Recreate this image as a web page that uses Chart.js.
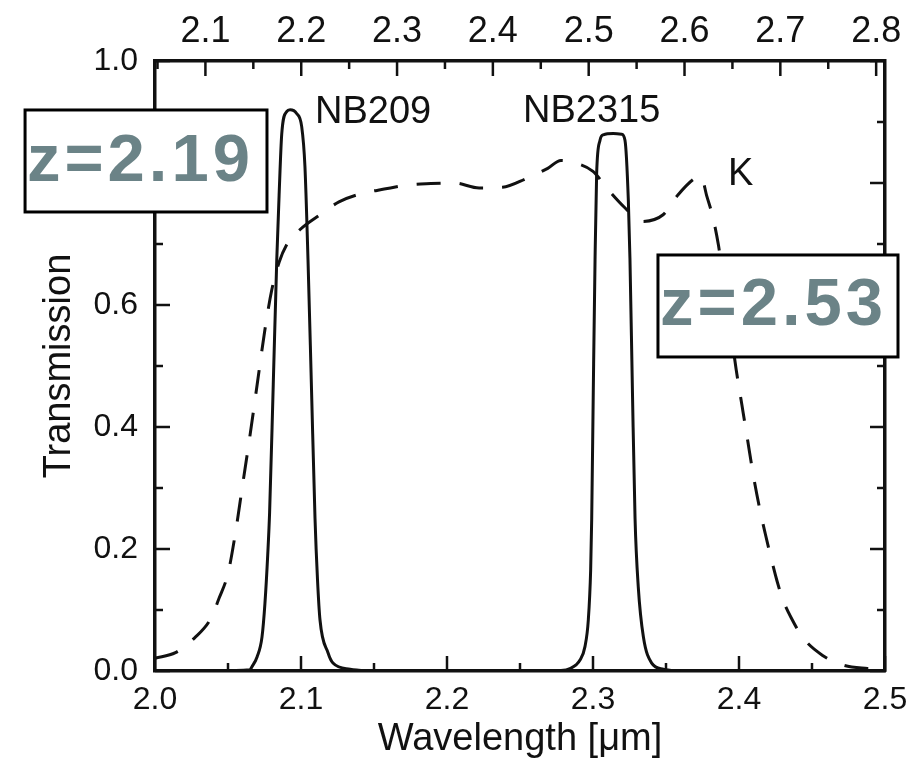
<!DOCTYPE html>
<html>
<head>
<meta charset="utf-8">
<script src="https://cdn.jsdelivr.net/npm/chart.js@4.4.1/dist/chart.umd.min.js"></script>
<style>
  html, body { margin: 0; padding: 0; background: #fff; }
  canvas { display: block; }
</style>
</head>
<body>
<canvas id="myChart" width="919" height="768"></canvas>
<script>
// K band filter curve (dashed)
var kWave  = [2.000, 2.014, 2.027, 2.038, 2.044, 2.050, 2.055, 2.060, 2.065, 2.070, 2.075, 2.080, 2.085, 2.090,
              2.099, 2.113, 2.126, 2.142, 2.157, 2.174, 2.189, 2.205, 2.222, 2.238, 2.254, 2.269, 2.278, 2.286,
              2.300, 2.310, 2.322, 2.333, 2.348, 2.358, 2.370, 2.374, 2.378, 2.382, 2.386, 2.390, 2.394, 2.398,
              2.402, 2.406, 2.410, 2.414, 2.418, 2.422, 2.426, 2.430, 2.436, 2.444, 2.457, 2.471, 2.488, 2.500];
var kTrans = [0.021, 0.030, 0.054, 0.085, 0.120, 0.160, 0.225, 0.305, 0.385, 0.470, 0.555, 0.625, 0.670, 0.698,
              0.723, 0.748, 0.769, 0.783, 0.790, 0.797, 0.799, 0.800, 0.792, 0.793, 0.807, 0.824, 0.837, 0.834,
              0.819, 0.790, 0.759, 0.737, 0.748, 0.780, 0.808, 0.811, 0.778, 0.745, 0.697, 0.630, 0.565, 0.495,
              0.436, 0.377, 0.318, 0.268, 0.225, 0.185, 0.148, 0.117, 0.086, 0.054, 0.026, 0.010, 0.004, 0.002];

// NB209 narrow band
var nb209Wave  = [2.040, 2.065, 2.0664, 2.0699, 2.0733, 2.0753, 2.0772, 2.0785, 2.0810, 2.0834, 2.0850, 2.0868,
                  2.0902, 2.0925, 2.0970, 2.1005, 2.1027, 2.1048, 2.1072, 2.1096, 2.1113, 2.1130, 2.1185, 2.1219,
                  2.1336, 2.150];
var nb209Trans = [0.000, 0.002, 0.007, 0.023, 0.056, 0.111, 0.190, 0.260, 0.470, 0.674, 0.780, 0.880,
                  0.917, 0.920, 0.914, 0.892, 0.827, 0.674, 0.462, 0.250, 0.150, 0.084, 0.030, 0.013,
                  0.003, 0.000];

// NB2315 narrow band
var nb2315Wave  = [2.275, 2.2842, 2.2911, 2.2945, 2.2968, 2.2984, 2.2991, 2.3002, 2.3014, 2.3025, 2.3048, 2.3070,
                   2.3139, 2.3196, 2.3219, 2.3242, 2.3253, 2.3270, 2.3288, 2.3310, 2.3345, 2.3402, 2.3482, 2.360];
var nb2315Trans = [0.000, 0.004, 0.018, 0.040, 0.084, 0.166, 0.248, 0.460, 0.674, 0.816, 0.870, 0.879,
                   0.881, 0.880, 0.870, 0.772, 0.677, 0.460, 0.250, 0.138, 0.056, 0.013, 0.003, 0.000];

// axes
var waveTicks  = [2.0, 2.1, 2.2, 2.3, 2.4, 2.5];
var waveMinor  = [2.05, 2.15, 2.25, 2.35, 2.45];
var transTicks = [0.0, 0.2, 0.4, 0.6, 0.8, 1.0];
var transMinor = [0.1, 0.3, 0.5, 0.7, 0.9];
var zTicks     = [2.1, 2.2, 2.3, 2.4, 2.5, 2.6, 2.7, 2.8];
var zMinor     = [2.05, 2.15, 2.25, 2.35, 2.45, 2.55, 2.65, 2.75];
var HALPHA = 0.6563; // rest wavelength in micron

var filterNames = ['NB209', 'NB2315', 'K'];
var redshiftTags = ['z=2.19', 'z=2.53'];

var WAVE_MIN = 2.0, WAVE_MAX = 2.5;
var INK = '#111';
var FONT = 'Liberation Sans, Arial, Helvetica, sans-serif';

function pts(xs, ys) {
    return xs.map(function (v, i) { return { x: v, y: ys[i] }; });
}

function setTicks(list) {
    return function (scale) {
        scale.ticks = list.map(function (v) { return { value: v }; });
    };
}

// short ticks pointing into the plot on every side
var innerTicks = {
    id: 'innerTicks',
    afterDatasetsDraw: function (chart) {
        var ctx = chart.ctx, a = chart.chartArea;
        var sx = chart.scales.x, sy = chart.scales.y, sz = chart.scales.x2;
        var big = 15, small = 8;
        ctx.save();
        ctx.strokeStyle = INK;
        ctx.lineWidth = 2.5;
        function line(x1, y1, x2, y2) {
            ctx.beginPath(); ctx.moveTo(x1, y1); ctx.lineTo(x2, y2); ctx.stroke();
        }
        waveTicks.forEach(function (v) { var p = sx.getPixelForValue(v); line(p, a.bottom, p, a.bottom - big); });
        waveMinor.forEach(function (v) { var p = sx.getPixelForValue(v); line(p, a.bottom, p, a.bottom - small); });
        zTicks.forEach(function (v) { var p = sz.getPixelForValue(v); line(p, a.top, p, a.top + big); });
        zMinor.forEach(function (v) { var p = sz.getPixelForValue(v); line(p, a.top, p, a.top + small); });
        transTicks.forEach(function (v) {
            var p = sy.getPixelForValue(v);
            line(a.left, p, a.left + big, p); line(a.right, p, a.right - big, p);
        });
        transMinor.forEach(function (v) {
            var p = sy.getPixelForValue(v);
            line(a.left, p, a.left + small, p); line(a.right, p, a.right - small, p);
        });
        ctx.restore();
    }
};

// filter names and the boxed redshift tags
var labels = {
    id: 'labels',
    afterDraw: function (chart) {
        var ctx = chart.ctx, sx = chart.scales.x, sy = chart.scales.y;
        var X = function (v) { return sx.getPixelForValue(v); };
        var Y = function (v) { return sy.getPixelForValue(v); };
        ctx.save();
        ctx.fillStyle = INK;
        ctx.font = '38px ' + FONT;
        ctx.textAlign = 'left';
        ctx.textBaseline = 'alphabetic';
        var namePos = [[2.1096, 0.898], [2.2521, 0.900], [2.3925, 0.797]];
        filterNames.forEach(function (t, i) { ctx.fillText(t, X(namePos[i][0]), Y(namePos[i][1])); });

        var boxes = [
            { x0: 1.9110, x1: 2.0767, y0: 0.9197, y1: 0.7525, tx: 1.9123, ty: 0.8033 },
            { x0: 2.3445, x1: 2.5089, y0: 0.6820, y1: 0.5148, tx: 2.3459, ty: 0.5670 }
        ];
        boxes.forEach(function (b, i) {
            var l = X(b.x0), r = X(b.x1), t = Y(b.y0), bt = Y(b.y1);
            ctx.fillStyle = '#fff';
            ctx.fillRect(l, t, r - l, bt - t);
            ctx.lineWidth = 3;
            ctx.strokeStyle = '#000';
            ctx.strokeRect(l, t, r - l, bt - t);
            ctx.fillStyle = '#6b8387';
            ctx.font = 'bold 67px Arial, sans-serif';
            ctx.letterSpacing = '4px';
            ctx.fillText(redshiftTags[i], X(b.tx), Y(b.ty));
            ctx.letterSpacing = '0px';
        });
        ctx.restore();
    }
};

var ctx = document.getElementById('myChart');
var myChart = new Chart(ctx, {
    type: 'line',
    data: {
        datasets: [{
            label: 'K',
            data: pts(kWave, kTrans),
            borderColor: INK,
            borderWidth: 3,
            borderDash: [24, 19],
            pointRadius: 0,
            cubicInterpolationMode: 'monotone'
        }, {
            label: 'NB209',
            data: pts(nb209Wave, nb209Trans),
            borderColor: INK,
            borderWidth: 3,
            pointRadius: 0,
            cubicInterpolationMode: 'monotone'
        }, {
            label: 'NB2315',
            data: pts(nb2315Wave, nb2315Trans),
            borderColor: INK,
            borderWidth: 3,
            pointRadius: 0,
            cubicInterpolationMode: 'monotone'
        }]
    },
    options: {
        responsive: false,
        animation: false,
        events: [],
        layout: { padding: 0 },
        plugins: { legend: { display: false }, tooltip: { enabled: false } },
        scales: {
            x: {
                type: 'linear', position: 'bottom',
                min: WAVE_MIN, max: WAVE_MAX,
                afterBuildTicks: setTicks(waveTicks),
                afterFit: function (s) { s.height = 97; },
                grid: { display: false, drawTicks: false },
                border: { display: true, color: INK, width: 3.5 },
                ticks: {
                    color: INK, padding: 10, maxRotation: 0, autoSkip: false,
                    font: { family: FONT, size: 32 },
                    callback: function (v) { return v.toFixed(1); }
                },
                title: {
                    display: true, text: 'Wavelength [μm]', color: INK,
                    font: { family: FONT, size: 38 }, padding: { top: 0, bottom: 6 }
                }
            },
            x2: {
                type: 'linear', position: 'top',
                min: WAVE_MIN / HALPHA - 1, max: WAVE_MAX / HALPHA - 1,
                afterBuildTicks: setTicks(zTicks),
                afterFit: function (s) { s.height = 61; },
                grid: { display: false, drawTicks: false },
                border: { display: true, color: INK, width: 3.5 },
                ticks: {
                    color: INK, padding: 7, maxRotation: 0, autoSkip: false,
                    font: { family: FONT, size: 36 },
                    callback: function (v) { return v.toFixed(1); }
                }
            },
            y: {
                type: 'linear', position: 'left',
                min: 0, max: 1,
                afterBuildTicks: setTicks(transTicks),
                afterFit: function (s) { s.width = 155; },
                grid: { display: false, drawTicks: false },
                border: { display: true, color: INK, width: 3.5 },
                ticks: {
                    color: INK, padding: 17, autoSkip: false,
                    font: { family: FONT, size: 32 },
                    callback: function (v) { return v.toFixed(1); }
                },
                title: {
                    display: true, text: 'Transmission', color: INK,
                    font: { family: FONT, size: 38 }, padding: { top: 37, bottom: 0 }
                }
            },
            y2: {
                type: 'linear', position: 'right',
                min: 0, max: 1,
                afterFit: function (s) { s.width = 34; },
                grid: { display: false, drawTicks: false },
                border: { display: true, color: INK, width: 3.5 },
                ticks: { display: false }
            }
        }
    },
    plugins: [innerTicks, labels]
});
</script>
</body>
</html>
